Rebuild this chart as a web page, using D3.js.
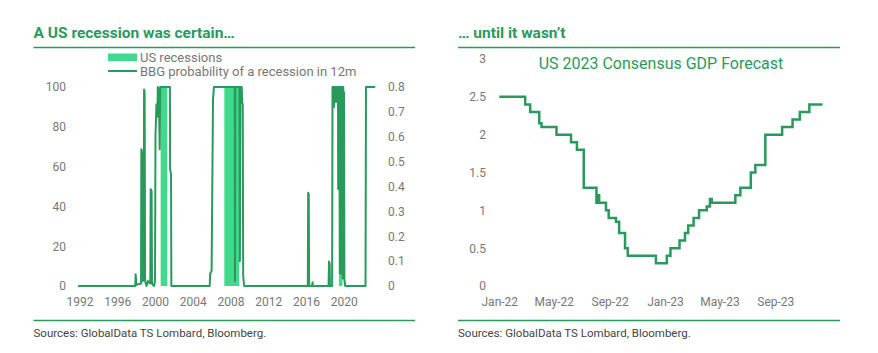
<!DOCTYPE html>
<html>
<head>
<meta charset="utf-8">
<script src="https://cdn.jsdelivr.net/npm/d3@7"></script>
<style>
  body { margin: 0; background: #fff; }
  svg { font-family: Roboto, "Noto Sans", sans-serif; }
</style>
</head>
<body>
<svg id="chart" width="878" height="353"></svg>
<script>
// left panel: recessions + BBG probability
var recStart = [2001.2, 2007.95, 2020.1];
var recEnd = [2001.9, 2009.53, 2020.48];
var probT = [1992.45, 1998.5, 1998.55, 1998.62, 1999.12, 1999.15, 1999.27, 1999.3, 1999.4, 1999.44, 1999.5, 1999.55, 1999.7, 1999.85, 2000.1, 2000.14, 2000.24, 2000.28, 2000.5, 2000.6, 2000.65, 2000.75, 2000.85, 2000.9, 2001.0, 2001.1, 2001.15, 2002.18, 2002.2, 2002.3, 2002.33,
  2006.4, 2006.45, 2006.6, 2006.75, 2006.85, 2009.05, 2009.08, 2009.12, 2009.55, 2009.6, 2009.65, 2009.8, 2009.83, 2009.9, 2009.95, 2010.05,
  2016.8, 2016.84, 2016.9, 2016.94, 2017.25, 2017.3, 2017.35,
  2019.0, 2019.05, 2019.12, 2019.15, 2019.38, 2019.42, 2019.48, 2019.52, 2019.58, 2019.62, 2019.68, 2019.72, 2019.8, 2019.85, 2019.92, 2020.0, 2020.02, 2020.05, 2020.1, 2020.15, 2020.2, 2020.24, 2020.28, 2020.32, 2020.36, 2020.4, 2020.44, 2020.48, 2020.52, 2020.56, 2020.6, 2020.64, 2020.68, 2020.72, 2020.76,
  2022.92, 2022.97, 2023.95];
var probV = [0, 0, 0.047, 0.005, 0.01, 0.55, 0.53, 0.02, 0.03, 0.79, 0.78, 0.02, 0, 0.02, 0.01, 0.39, 0.38, 0.01, 0, 0.02, 0.6, 0.73, 0.68, 0.8, 0.78, 0.55, 0.8, 0.8, 0.47, 0.45, 0,
  0, 0.05, 0.06, 0.75, 0.8, 0.8, 0.02, 0.8, 0.8, 0.1, 0.8, 0.8, 0.74, 0.73, 0.04, 0,
  0, 0.375, 0.37, 0, 0, 0.015, 0,
  0, 0.098, 0.09, 0, 0, 0.8, 0.75, 0.8, 0.72, 0.8, 0.76, 0.8, 0.74, 0.8, 0.78, 0.8, 0.39, 0.8, 0.7, 0.8, 0.05, 0.8, 0.1, 0.8, 0.05, 0.8, 0.2, 0.8, 0.03, 0.8, 0.05, 0.78, 0.02, 0.02, 0,
  0, 0.8, 0.8];
var yearTicks = [1992, 1996, 2000, 2004, 2008, 2012, 2016, 2020];
var leftTicks = [0, 20, 40, 60, 80, 100];
var rightTicks = [0, 0.1, 0.2, 0.3, 0.4, 0.5, 0.6, 0.7, 0.8];

// right panel: US 2023 consensus GDP forecast (step changes)
var gdpDates = ["2022-01-01", "2022-02-27", "2022-03-10", "2022-03-30", "2022-04-04", "2022-05-07", "2022-06-08", "2022-06-21", "2022-07-06",
  "2022-08-03", "2022-08-06", "2022-08-09", "2022-08-24", "2022-08-30", "2022-09-15", "2022-09-22", "2022-10-05", "2022-10-11", "2022-12-12",
  "2023-01-05", "2023-01-13", "2023-02-02", "2023-02-14", "2023-02-21", "2023-03-05", "2023-03-17", "2023-04-03", "2023-04-10", "2023-04-14",
  "2023-06-05", "2023-06-16", "2023-07-09", "2023-07-19", "2023-08-10", "2023-09-16", "2023-10-09", "2023-10-25", "2023-11-15", "2023-12-14"];
var gdpValues = [2.5, 2.4, 2.3, 2.15, 2.1, 2.0, 1.9, 1.8, 1.3,
  1.1, 1.2, 1.1, 1.0, 0.9, 0.85, 0.7, 0.5, 0.4, 0.3,
  0.4, 0.5, 0.6, 0.7, 0.8, 0.9, 1.0, 1.05, 1.15, 1.1,
  1.2, 1.3, 1.5, 1.6, 2.0, 2.1, 2.2, 2.3, 2.4, 2.4];
var monthTicks = ["2022-01-01", "2022-05-01", "2022-09-01", "2023-01-01", "2023-05-01", "2023-09-01"];
var gdpTicks = [0, 0.5, 1, 1.5, 2, 2.5, 3];

var green = "#2a9a5c";
var light = "#41d98b";
var grey = "#777";

var svg = d3.select("#chart");

// ---- headers and rules
function header(x0, x1, title) {
  svg.append("text")
    .attr("x", x0).attr("y", 38)
    .attr("font-size", "15.5px").attr("font-weight", "bold")
    .attr("fill", green)
    .text(title);
  svg.append("line")
    .attr("x1", x0).attr("x2", x1).attr("y1", 47.5).attr("y2", 47.5)
    .attr("stroke", green).attr("stroke-width", 1.3);
  svg.append("line")
    .attr("x1", x0).attr("x2", x1).attr("y1", 320.5).attr("y2", 320.5)
    .attr("stroke", green).attr("stroke-width", 1.3);
  svg.append("text")
    .attr("x", x0).attr("y", 336.5)
    .attr("font-size", "11.5px").attr("fill", "#444")
    .text("Sources: GlobalData TS Lombard, Bloomberg.");
}
header(33.5, 415, "A US recession was certain\u2026");
header(458, 840, "\u2026 until it wasn\u2019t");

function styleAxis(g) {
  g.select(".domain").remove();
  g.selectAll(".tick line").remove();
  g.selectAll("text").attr("font-size", "12px").attr("fill", grey)
    .attr("font-family", "Roboto, sans-serif");
}

// ---- left chart
var x = d3.scaleLinear().domain([1992, 2024]).range([73.9, 375.7]);
var yL = d3.scaleLinear().domain([0, 100]).range([286, 87]);
var yR = d3.scaleLinear().domain([0, 0.8]).range([286, 87]);

svg.selectAll(".rec")
  .data(recStart)
  .join("rect")
  .attr("class", "rec")
  .attr("x", function (d) { return x(d); })
  .attr("width", function (d, i) { return x(recEnd[i]) - x(d); })
  .attr("y", yL(100))
  .attr("height", yL(0) - yL(100))
  .attr("fill", light);

var prob = probT.map(function (t, i) { return [t, probV[i]]; });
svg.append("path")
  .datum(prob)
  .attr("d", d3.line()
    .x(function (d) { return x(d[0]); })
    .y(function (d) { return yR(d[1]); }))
  .attr("fill", "none")
  .attr("stroke", green)
  .attr("stroke-width", 2)
  .attr("stroke-linejoin", "round");

svg.append("g")
  .attr("transform", "translate(0,289)")
  .call(d3.axisBottom(x)
    .tickValues(yearTicks.map(function (d) { return d + 0.6; }))
    .tickFormat(function (d) { return Math.floor(d); })
    .tickSizeInner(0).tickPadding(8))
  .call(styleAxis);

svg.append("g")
  .attr("transform", "translate(72,0)")
  .call(d3.axisLeft(yL).tickValues(leftTicks).tickSizeInner(0).tickPadding(6))
  .call(styleAxis);

svg.append("g")
  .attr("transform", "translate(382,0)")
  .call(d3.axisRight(yR).tickValues(rightTicks).tickFormat(d3.format("~g")).tickSizeInner(0).tickPadding(6))
  .call(styleAxis);

// legend
svg.append("rect")
  .attr("x", 108).attr("y", 53.5).attr("width", 29).attr("height", 7.5)
  .attr("fill", light);
svg.append("text")
  .attr("x", 140).attr("y", 61.5)
  .attr("font-size", "13px").attr("fill", grey)
  .text("US recessions");
svg.append("line")
  .attr("x1", 108).attr("x2", 137).attr("y1", 71).attr("y2", 71)
  .attr("stroke", green).attr("stroke-width", 2);
svg.append("text")
  .attr("x", 140).attr("y", 75.5)
  .attr("font-size", "13px").attr("fill", grey)
  .text("BBG probability of a recession in 12m");

// ---- right chart
var parse = d3.timeParse("%Y-%m-%d");
var xT = d3.scaleTime()
  .domain([parse("2022-01-01"), parse("2024-01-01")])
  .range([499.3, 830.7]);
var yG = d3.scaleLinear().domain([0, 3]).range([286, 59]);

svg.append("text")
  .attr("x", 661).attr("y", 69)
  .attr("text-anchor", "middle")
  .attr("font-size", "16px").attr("fill", green)
  .text("US 2023 Consensus GDP Forecast");

var gdp = gdpDates.map(function (d, i) { return [parse(d), gdpValues[i]]; });
svg.append("path")
  .datum(gdp)
  .attr("d", d3.line()
    .curve(d3.curveStepAfter)
    .x(function (d) { return xT(d[0]); })
    .y(function (d) { return yG(d[1]); }))
  .attr("fill", "none")
  .attr("stroke", green)
  .attr("stroke-width", 2.5);

svg.append("g")
  .attr("transform", "translate(0,289)")
  .call(d3.axisBottom(xT)
    .tickValues(monthTicks.map(parse))
    .tickFormat(d3.timeFormat("%b-%y"))
    .tickSizeInner(0).tickPadding(8))
  .call(styleAxis);

svg.append("g")
  .attr("transform", "translate(492,0)")
  .call(d3.axisLeft(yG).tickValues(gdpTicks).tickFormat(d3.format("~g")).tickSizeInner(0).tickPadding(6))
  .call(styleAxis);
</script>
</body>
</html>
